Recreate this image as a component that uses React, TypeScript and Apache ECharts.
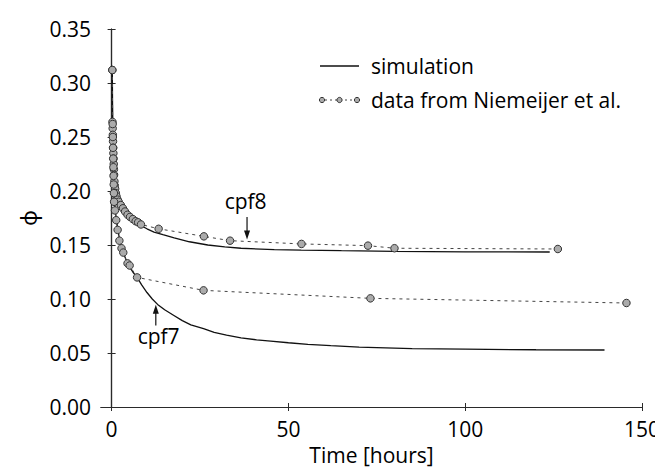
import React, { useEffect, useRef } from "react";
import * as echarts from "echarts";

// Simulation curves [hours, phi]
const simCpf8: [number, number][] = [
  [0.2, 0.312], [0.22, 0.28], [0.25, 0.266], [0.3, 0.256], [0.4, 0.244], [0.5, 0.235], [0.6, 0.226],
  [0.8, 0.213], [1.0, 0.205], [1.4, 0.197], [2.0, 0.19], [3.0, 0.183], [4.0, 0.179], [5.0, 0.176],
  [6.5, 0.172], [8.3, 0.168], [10, 0.165], [12, 0.162], [14.5, 0.1595], [17.7, 0.1565], [22, 0.153],
  [27.2, 0.15], [32, 0.1482], [36.6, 0.147], [46, 0.1457], [53.6, 0.1452], [65, 0.1447], [80, 0.1441],
  [100, 0.1437], [123.9, 0.1435],
];
const simCpf7: [number, number][] = [
  [0.2, 0.312], [0.25, 0.285], [0.3, 0.268], [0.4, 0.243], [0.5, 0.225], [0.6, 0.21], [0.7, 0.199],
  [0.85, 0.189], [1.0, 0.183], [1.3, 0.175], [1.7, 0.166], [2.2, 0.156], [2.8, 0.148], [3.3, 0.143],
  [4.0, 0.137], [5.0, 0.13], [6.0, 0.125], [7.2, 0.12], [8.5, 0.113], [10, 0.106], [11.5, 0.1], [13, 0.095],
  [15, 0.09], [17.5, 0.085], [20, 0.08], [22.4, 0.076], [26, 0.0725], [29, 0.069], [32.5, 0.0665],
  [36.6, 0.064], [41, 0.0622], [45, 0.061], [50, 0.0595], [55.5, 0.058], [62, 0.0568], [70, 0.0555],
  [85, 0.054], [100, 0.0535], [120, 0.053], [139.4, 0.0528],
];

// Measured data (Niemeijer et al.) [hours, phi]
const dataCpf8: [number, number][] = [
  [0.2, 0.312], [0.25, 0.264], [0.3, 0.258], [0.35, 0.252], [0.4, 0.246], [0.45, 0.24], [0.5, 0.235],
  [0.55, 0.23], [0.6, 0.225], [0.65, 0.22], [0.7, 0.215], [0.8, 0.209], [0.9, 0.205], [1.0, 0.202],
  [1.2, 0.198], [1.4, 0.195], [1.7, 0.192], [2.0, 0.19], [2.6, 0.187], [3.2, 0.184], [3.8, 0.181],
  [4.5, 0.178], [5.2, 0.176], [6.0, 0.174], [6.8, 0.172], [7.5, 0.171], [8.3, 0.169], [13.3, 0.165],
  [26.1, 0.158], [33.5, 0.154], [53.7, 0.151], [72.5, 0.1494], [80, 0.147], [126.2, 0.1463],
];
const dataCpf7: [number, number][] = [
  [0.2, 0.312], [0.3, 0.262], [0.35, 0.25], [0.4, 0.24], [0.45, 0.23], [0.5, 0.222], [0.55, 0.214],
  [0.6, 0.206], [0.65, 0.198], [0.7, 0.19], [0.95, 0.182], [1.3, 0.173], [1.7, 0.164], [2.2, 0.154],
  [2.8, 0.147], [3.3, 0.143], [4.5, 0.133], [5.1, 0.131], [7.2, 0.12], [26.0, 0.108], [73.2, 0.1006],
  [145.6, 0.0963],
];

const xTicks = [0, 50, 100, 150];
const legendLabels = ["simulation", "data from Niemeijer et al."];

// Annotations in data coordinates
const annotations = [
  { label: "cpf8", tx: 37.9, ty: 0.1907, ax: 38.3, from: 0.176, to: 0.155 },
  { label: "cpf7", tx: 13.3, ty: 0.0657, ax: 12.5, from: 0.0755, to: 0.0947 },
];

const FONT = "'Open Sans', 'Noto Sans', sans-serif";
const FS = 21;
const TXT = "#000";

export default function App() {
  const ref = useRef<HTMLDivElement>(null);
  useEffect(() => {
    if (!ref.current) return;
    const chart = echarts.init(ref.current, undefined, { renderer: "svg" });
    const axisColor = "#2a2a2a";
    const dataItem = { color: "#ababab", borderColor: "#333", borderWidth: 1 };
    const dashLine = { color: "#444", width: 1, type: [3, 4] as any };
    const simLine = { color: "#111", width: 1.3 };
    chart.setOption({
      animation: false,
      textStyle: { fontFamily: FONT },
      grid: { left: 93, right: 29, top: 21, bottom: 68, containLabel: false },
      xAxis: [
        {
          type: "value", min: -3, max: 150, position: "bottom",
          axisLine: { show: true, lineStyle: { color: axisColor, width: 1.2 } },
          axisTick: { show: true, inside: true, length: 4, customValues: xTicks, lineStyle: { color: axisColor } },
          axisLabel: { customValues: xTicks, fontSize: FS, color: TXT, margin: 11, fontFamily: FONT },
          splitLine: { show: false },
          name: "Time [hours]", nameLocation: "middle", nameGap: 37,
          nameTextStyle: { fontSize: FS, color: TXT, fontFamily: FONT },
        },
        {
          type: "value", min: -3, max: 150, position: "top",
          axisLine: { show: true, lineStyle: { color: axisColor, width: 1.2 } },
          axisTick: { show: true, inside: true, length: 4, customValues: xTicks, lineStyle: { color: axisColor } },
          axisLabel: { show: false },
          splitLine: { show: false },
        },
      ],
      yAxis: [
        {
          type: "value", min: 0, max: 0.35, interval: 0.05, position: "left",
          axisLine: { show: true, lineStyle: { color: axisColor, width: 1.2 } },
          axisTick: { show: true, inside: true, length: 4, lineStyle: { color: axisColor } },
          axisLabel: { fontSize: FS, color: TXT, margin: 10, fontFamily: FONT, formatter: (v: number) => v.toFixed(2) },
          splitLine: { show: false },
          name: "ϕ", nameLocation: "middle", nameGap: 58, nameRotate: 90,
          nameTextStyle: { fontSize: FS + 1, color: TXT, fontFamily: FONT },
        },
        {
          type: "value", min: 0, max: 0.35, interval: 0.05, position: "right",
          axisLine: { show: true, lineStyle: { color: axisColor, width: 1.2 } },
          axisTick: { show: true, inside: true, length: 4, lineStyle: { color: axisColor } },
          axisLabel: { show: false },
          splitLine: { show: false },
        },
      ],
      series: [
        { type: "line", name: legendLabels[0], data: simCpf8, showSymbol: false, lineStyle: simLine, z: 2 },
        { type: "line", name: legendLabels[0], data: simCpf7, showSymbol: false, lineStyle: simLine, z: 2 },
        { type: "line", name: legendLabels[1], data: dataCpf8, symbol: "circle", symbolSize: 7.5, lineStyle: dashLine, itemStyle: dataItem, z: 3 },
        { type: "line", name: legendLabels[1], data: dataCpf7, symbol: "circle", symbolSize: 7.5, lineStyle: dashLine, itemStyle: dataItem, z: 3 },
      ],
    });

    const graphics: any[] = [];
    // legend
    const lx0 = 312, lx1 = 351, ly1 = 58, ly2 = 92, tx = 363;
    graphics.push({ type: "line", shape: { x1: lx0, y1: ly1, x2: lx1, y2: ly1 }, style: { stroke: "#111", lineWidth: 1.3 } });
    graphics.push({ type: "text", x: tx, y: ly1, style: { text: legendLabels[0], font: `${FS}px ${FONT}`, fill: TXT, textVerticalAlign: "middle" } });
    graphics.push({ type: "line", shape: { x1: lx0, y1: ly2, x2: lx1, y2: ly2 }, style: { stroke: "#444", lineWidth: 1, lineDash: [2, 3] } });
    [lx0 + 2, (lx0 + lx1) / 2, lx1 - 2].forEach((cx) =>
      graphics.push({ type: "circle", shape: { cx, cy: ly2, r: 2.6 }, style: { fill: "#ababab", stroke: "#333", lineWidth: 1 } })
    );
    graphics.push({ type: "text", x: tx, y: ly2, style: { text: legendLabels[1], font: `${FS}px ${FONT}`, fill: TXT, textVerticalAlign: "middle" } });

    // annotations
    annotations.forEach((a) => {
      const t = chart.convertToPixel({ gridIndex: 0 }, [a.tx, a.ty]) as number[];
      const p0 = chart.convertToPixel({ gridIndex: 0 }, [a.ax, a.from]) as number[];
      const p1 = chart.convertToPixel({ gridIndex: 0 }, [a.ax, a.to]) as number[];
      const d = p1[1] > p0[1] ? 1 : -1;
      graphics.push({ type: "text", x: t[0], y: t[1], style: { text: a.label, font: `${FS}px ${FONT}`, fill: TXT, textAlign: "center", textVerticalAlign: "middle" } });
      graphics.push({ type: "line", shape: { x1: p0[0], y1: p0[1], x2: p1[0], y2: p1[1] - d * 6 }, style: { stroke: "#111", lineWidth: 1.2 } });
      graphics.push({ type: "polygon", shape: { points: [[p1[0], p1[1]], [p1[0] - 3, p1[1] - d * 9], [p1[0] + 3, p1[1] - d * 9]] }, style: { fill: "#111" } });
    });
    chart.setOption({ graphic: graphics });

    return () => chart.dispose();
  }, []);
  return <div ref={ref} style={{ width: 663, height: 467 }} />;
}
